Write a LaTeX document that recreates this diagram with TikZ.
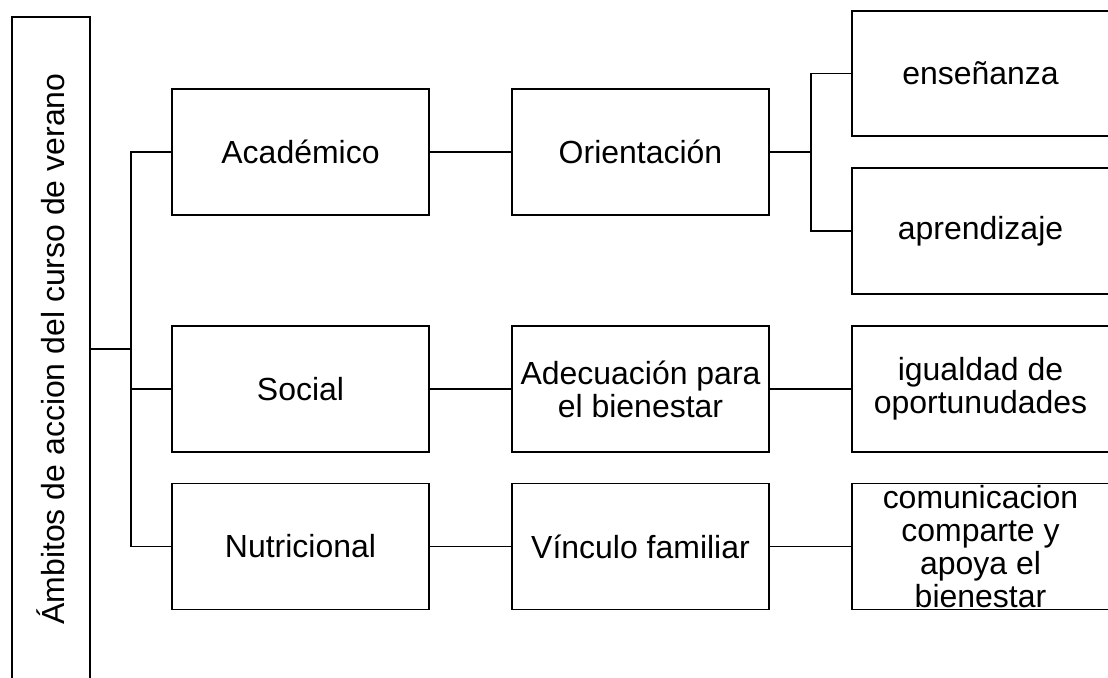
\documentclass[tikz,border=0pt]{standalone}
\usepackage{fontspec}
\setmainfont{Liberation Sans}
\usepackage{tikz}

\tikzset{
  caja/.style={draw, line width=1.1pt, minimum width=5.14cm, minimum height=2.52cm,
    inner sep=2pt, align=center, font=\fontsize{18.2}{18.8}\selectfont},
  txt/.style={align=center, inner sep=0pt, font=\fontsize{18.2}{18.8}\selectfont},
  linea/.style={line width=1.1pt}
}

\begin{document}
\begin{tikzpicture}[x=0.02cm, y=-0.02cm]
        \useasboundingbox (0,0) rectangle (1108,677);

        % caja vertical
        \node[caja, minimum width=1.56cm, minimum height=13.28cm,
              label={[txt, rotate=90]center:Ámbitos de accion del curso de verano}] (ambitos) at (51,349) {};

        % primera columna
        \node[caja] (acad) at (300.5,152) {Académico};
        \node[caja] (social) at (300.5,389) {Social};
        \node[caja] (nutri) at (300.5,546.5) {Nutricional};

        % segunda columna
        \node[caja] (orient) at (640.5,152) {Orientación};
        \node[caja] (adec) at (640.5,389) {Adecuación para\\el bienestar};
        \node[caja] (vinc) at (640.5,546.5) {Vínculo familiar};

        % tercera columna
        \node[caja, minimum height=2.5cm] (ense) at (980.5,73.5) {enseñanza};
        \node[caja] (apre) at (980.5,231) {aprendizaje};
        \node[caja] (igual) at (980.5,389) {igualdad de\\oportunudades};
        \node[caja, label={[txt]center:comunicacion\\comparte y\\apoya el\\bienestar}] (comun) at (980.5,546.5) {};

        % conectores
        \coordinate (j1) at (131,349);
        \coordinate (j2) at (811,152);
        \draw[linea] (ambitos.east) -- (j1);
        \draw[linea] (acad.west) -| (j1) |- (nutri.west);
        \draw[linea] (social.west) -- (social.west -| j1);

        \draw[linea] (acad) -- (orient);
        \draw[linea] (social) -- (adec);
        \draw[linea] (nutri) -- (vinc);

        \draw[linea] (orient.east) -- (j2);
        \draw[linea] (ense.west) -| (j2) |- (apre.west);
        \draw[linea] (adec) -- (igual);
        \draw[linea] (vinc) -- (comun);
    \end{tikzpicture}
\end{document}
